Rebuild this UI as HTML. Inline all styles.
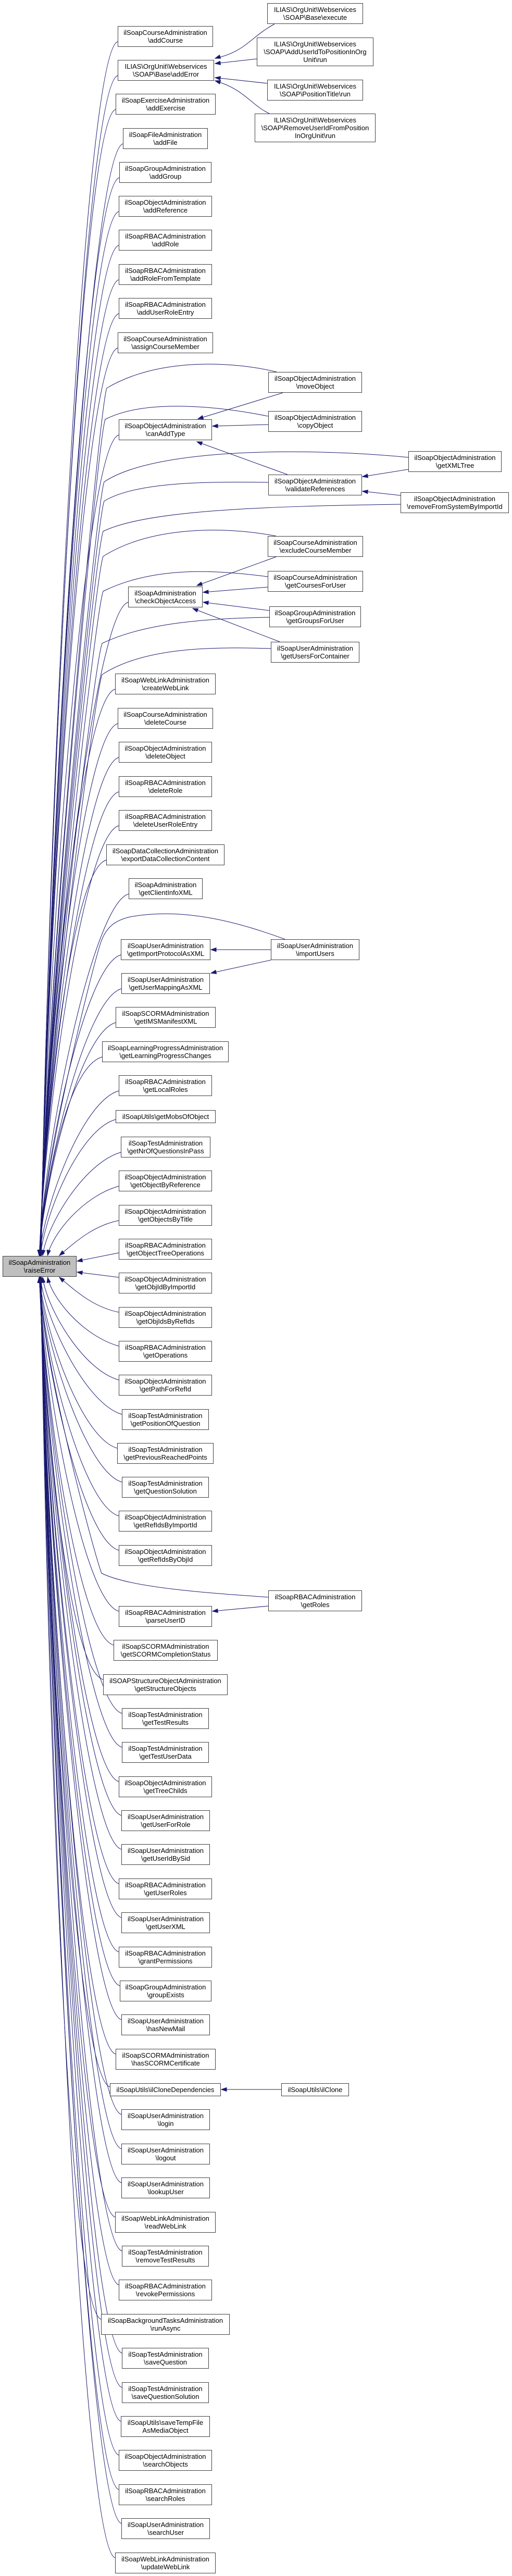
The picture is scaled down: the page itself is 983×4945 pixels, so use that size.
<!DOCTYPE html>
<html><head><meta charset="utf-8"><style>
html,body{margin:0;padding:0;background:#fff;}
#c{position:relative;width:983px;height:4945px;overflow:hidden;}
.n{position:absolute;box-sizing:border-box;border:1px solid #404040;background:#fff;display:flex;align-items:center;justify-content:center;text-align:center;font:13px/15px "Liberation Sans",Arial,sans-serif;color:#000;white-space:nowrap;z-index:2;}
svg{position:absolute;left:0;top:0;z-index:1;}
svg path{fill:none;stroke:#191970;stroke-width:1;}
svg polygon{fill:#191970;stroke:#191970;stroke-width:1;}
</style></head><body><div id="c">
<svg id="s" width="983" height="4945" viewBox="0 0 983 4945"></svg>
<div class="n" style="left:5px;top:2411px;width:142px;height:40px;background:#bfbfbf">ilSoapAdministration<br>\raiseError</div>

<div class="n u" style="left:226px;top:50px;width:183px;height:40px">ilSoapCourseAdministration<br>\addCourse</div>
<div class="n u" style="left:226px;top:115px;width:185px;height:40px">ILIAS\OrgUnit\Webservices<br>\SOAP\Base\addError</div>
<div class="n u" style="left:222px;top:180px;width:192px;height:40px">ilSoapExerciseAdministration<br>\addExercise</div>
<div class="n u" style="left:236px;top:246px;width:163px;height:40px">ilSoapFileAdministration<br>\addFile</div>
<div class="n u" style="left:229px;top:311px;width:177px;height:40px">ilSoapGroupAdministration<br>\addGroup</div>
<div class="n u" style="left:228px;top:376px;width:179px;height:40px">ilSoapObjectAdministration<br>\addReference</div>
<div class="n u" style="left:228px;top:441px;width:179px;height:40px">ilSoapRBACAdministration<br>\addRole</div>
<div class="n u" style="left:228px;top:507px;width:179px;height:40px">ilSoapRBACAdministration<br>\addRoleFromTemplate</div>
<div class="n u" style="left:228px;top:572px;width:179px;height:40px">ilSoapRBACAdministration<br>\addUserRoleEntry</div>
<div class="n u" style="left:226px;top:638px;width:183px;height:40px">ilSoapCourseAdministration<br>\assignCourseMember</div>
<div class="n u" style="left:228px;top:805px;width:179px;height:40px">ilSoapObjectAdministration<br>\canAddType</div>
<div class="n u" style="left:246px;top:1126px;width:143px;height:40px">ilSoapAdministration<br>\checkObjectAccess</div>
<div class="n u" style="left:221px;top:1293px;width:193px;height:40px">ilSoapWebLinkAdministration<br>\createWebLink</div>
<div class="n u" style="left:226px;top:1359px;width:183px;height:40px">ilSoapCourseAdministration<br>\deleteCourse</div>
<div class="n u" style="left:228px;top:1424px;width:179px;height:40px">ilSoapObjectAdministration<br>\deleteObject</div>
<div class="n u" style="left:228px;top:1490px;width:179px;height:40px">ilSoapRBACAdministration<br>\deleteRole</div>
<div class="n u" style="left:228px;top:1555px;width:179px;height:40px">ilSoapRBACAdministration<br>\deleteUserRoleEntry</div>
<div class="n u" style="left:204px;top:1621px;width:227px;height:40px">ilSoapDataCollectionAdministration<br>\exportDataCollectionContent</div>
<div class="n u" style="left:247px;top:1686px;width:142px;height:40px">ilSoapAdministration<br>\getClientInfoXML</div>
<div class="n u" style="left:232px;top:1803px;width:172px;height:40px">ilSoapUserAdministration<br>\getImportProtocolAsXML</div>
<div class="n u" style="left:233px;top:1868px;width:170px;height:40px">ilSoapUserAdministration<br>\getUserMappingAsXML</div>
<div class="n u" style="left:222px;top:1933px;width:192px;height:40px">ilSoapSCORMAdministration<br>\getIMSManifestXML</div>
<div class="n u" style="left:196px;top:1999px;width:243px;height:40px">ilSoapLearningProgressAdministration<br>\getLearningProgressChanges</div>
<div class="n u" style="left:228px;top:2064px;width:179px;height:40px">ilSoapRBACAdministration<br>\getLocalRoles</div>
<div class="n u" style="left:222px;top:2131px;width:192px;height:25px">ilSoapUtils\getMobsOfObject</div>
<div class="n u" style="left:232px;top:2182px;width:172px;height:40px">ilSoapTestAdministration<br>\getNrOfQuestionsInPass</div>
<div class="n u" style="left:228px;top:2247px;width:179px;height:40px">ilSoapObjectAdministration<br>\getObjectByReference</div>
<div class="n u" style="left:228px;top:2313px;width:179px;height:40px">ilSoapObjectAdministration<br>\getObjectsByTitle</div>
<div class="n r1" style="left:228px;top:2378px;width:179px;height:40px">ilSoapRBACAdministration<br>\getObjectTreeOperations</div>
<div class="n r2" style="left:228px;top:2443px;width:179px;height:40px">ilSoapObjectAdministration<br>\getObjIdByImportId</div>
<div class="n d" style="left:228px;top:2509px;width:179px;height:40px">ilSoapObjectAdministration<br>\getObjIdsByRefIds</div>
<div class="n d" style="left:228px;top:2574px;width:179px;height:40px">ilSoapRBACAdministration<br>\getOperations</div>
<div class="n d" style="left:228px;top:2639px;width:179px;height:40px">ilSoapObjectAdministration<br>\getPathForRefId</div>
<div class="n d" style="left:234px;top:2705px;width:167px;height:40px">ilSoapTestAdministration<br>\getPositionOfQuestion</div>
<div class="n d" style="left:225px;top:2770px;width:185px;height:40px">ilSoapTestAdministration<br>\getPreviousReachedPoints</div>
<div class="n d" style="left:234px;top:2835px;width:167px;height:40px">ilSoapTestAdministration<br>\getQuestionSolution</div>
<div class="n d" style="left:228px;top:2900px;width:179px;height:40px">ilSoapObjectAdministration<br>\getRefIdsByImportId</div>
<div class="n d" style="left:228px;top:2966px;width:179px;height:40px">ilSoapObjectAdministration<br>\getRefIdsByObjId</div>
<div class="n d" style="left:228px;top:3083px;width:179px;height:40px">ilSoapRBACAdministration<br>\parseUserID</div>
<div class="n d" style="left:218px;top:3148px;width:200px;height:40px">ilSoapSCORMAdministration<br>\getSCORMCompletionStatus</div>
<div class="n d" style="left:198px;top:3214px;width:239px;height:40px">ilSOAPStructureObjectAdministration<br>\getStructureObjects</div>
<div class="n d" style="left:234px;top:3279px;width:167px;height:40px">ilSoapTestAdministration<br>\getTestResults</div>
<div class="n d" style="left:234px;top:3344px;width:167px;height:40px">ilSoapTestAdministration<br>\getTestUserData</div>
<div class="n d" style="left:228px;top:3410px;width:179px;height:40px">ilSoapObjectAdministration<br>\getTreeChilds</div>
<div class="n d" style="left:233px;top:3475px;width:170px;height:40px">ilSoapUserAdministration<br>\getUserForRole</div>
<div class="n d" style="left:233px;top:3540px;width:170px;height:40px">ilSoapUserAdministration<br>\getUserIdBySid</div>
<div class="n d" style="left:228px;top:3606px;width:179px;height:40px">ilSoapRBACAdministration<br>\getUserRoles</div>
<div class="n d" style="left:233px;top:3671px;width:170px;height:40px">ilSoapUserAdministration<br>\getUserXML</div>
<div class="n d" style="left:228px;top:3737px;width:179px;height:40px">ilSoapRBACAdministration<br>\grantPermissions</div>
<div class="n d" style="left:230px;top:3802px;width:176px;height:40px">ilSoapGroupAdministration<br>\groupExists</div>
<div class="n d" style="left:233px;top:3867px;width:170px;height:40px">ilSoapUserAdministration<br>\hasNewMail</div>
<div class="n d" style="left:222px;top:3933px;width:192px;height:40px">ilSoapSCORMAdministration<br>\hasSCORMCertificate</div>
<div class="n d" style="left:211px;top:3999px;width:213px;height:25px">ilSoapUtils\ilCloneDependencies</div>
<div class="n d" style="left:233px;top:4049px;width:170px;height:40px">ilSoapUserAdministration<br>\login</div>
<div class="n d" style="left:233px;top:4115px;width:170px;height:40px">ilSoapUserAdministration<br>\logout</div>
<div class="n d" style="left:233px;top:4180px;width:170px;height:40px">ilSoapUserAdministration<br>\lookupUser</div>
<div class="n d" style="left:221px;top:4246px;width:193px;height:40px">ilSoapWebLinkAdministration<br>\readWebLink</div>
<div class="n d" style="left:234px;top:4311px;width:167px;height:40px">ilSoapTestAdministration<br>\removeTestResults</div>
<div class="n d" style="left:228px;top:4376px;width:179px;height:40px">ilSoapRBACAdministration<br>\revokePermissions</div>
<div class="n d" style="left:194px;top:4442px;width:247px;height:40px">ilSoapBackgroundTasksAdministration<br>\runAsync</div>
<div class="n d" style="left:234px;top:4507px;width:167px;height:40px">ilSoapTestAdministration<br>\saveQuestion</div>
<div class="n d" style="left:234px;top:4573px;width:167px;height:40px">ilSoapTestAdministration<br>\saveQuestionSolution</div>
<div class="n d" style="left:232px;top:4638px;width:171px;height:40px">ilSoapUtils\saveTempFile<br>AsMediaObject</div>
<div class="n d" style="left:228px;top:4703px;width:179px;height:40px">ilSoapObjectAdministration<br>\searchObjects</div>
<div class="n d" style="left:228px;top:4769px;width:179px;height:40px">ilSoapRBACAdministration<br>\searchRoles</div>
<div class="n d" style="left:233px;top:4834px;width:170px;height:40px">ilSoapUserAdministration<br>\searchUser</div>
<div class="n d" style="left:221px;top:4900px;width:193px;height:40px">ilSoapWebLinkAdministration<br>\updateWebLink</div>

<div class="n" style="left:513px;top:6px;width:184px;height:40px">ILIAS\OrgUnit\Webservices<br>\SOAP\Base\execute</div>
<div class="n" style="left:493px;top:72px;width:224px;height:55px">ILIAS\OrgUnit\Webservices<br>\SOAP\AddUserIdToPositionInOrg<br>Unit\run</div>
<div class="n" style="left:513px;top:153px;width:184px;height:40px">ILIAS\OrgUnit\Webservices<br>\SOAP\PositionTitle\run</div>
<div class="n" style="left:489px;top:218px;width:232px;height:55px">ILIAS\OrgUnit\Webservices<br>\SOAP\RemoveUserIdFromPosition<br>InOrgUnit\run</div>
<div class="n" style="left:515px;top:714px;width:180px;height:40px">ilSoapObjectAdministration<br>\moveObject</div>
<div class="n" style="left:515px;top:789px;width:180px;height:40px">ilSoapObjectAdministration<br>\copyObject</div>
<div class="n" style="left:784px;top:866px;width:179px;height:40px">ilSoapObjectAdministration<br>\getXMLTree</div>
<div class="n" style="left:515px;top:911px;width:180px;height:40px">ilSoapObjectAdministration<br>\validateReferences</div>
<div class="n" style="left:769px;top:945px;width:208px;height:40px">ilSoapObjectAdministration<br>\removeFromSystemByImportId</div>
<div class="n" style="left:514px;top:1029px;width:183px;height:40px">ilSoapCourseAdministration<br>\excludeCourseMember</div>
<div class="n" style="left:514px;top:1096px;width:183px;height:40px">ilSoapCourseAdministration<br>\getCoursesForUser</div>
<div class="n" style="left:517px;top:1164px;width:176px;height:40px">ilSoapGroupAdministration<br>\getGroupsForUser</div>
<div class="n" style="left:520px;top:1232px;width:170px;height:40px">ilSoapUserAdministration<br>\getUsersForContainer</div>
<div class="n" style="left:520px;top:1803px;width:170px;height:40px">ilSoapUserAdministration<br>\importUsers</div>
<div class="n" style="left:515px;top:3053px;width:180px;height:40px">ilSoapRBACAdministration<br>\getRoles</div>
<div class="n" style="left:540px;top:3999px;width:130px;height:25px">ilSoapUtils\ilClone</div>
</div>
<script>
(function(){
var d='',a='';
function arrow(tx,ty,fx,fy){var dx=tx-fx,dy=ty-fy,L=Math.hypot(dx,dy)||1;dx/=L;dy/=L;var bx=tx-dx*10,by=ty-dy*10;
a+='<polygon points="'+tx+','+ty+' '+(bx-dy*3.5)+','+(by+dx*3.5)+' '+(bx+dy*3.5)+','+(by-dx*3.5)+'"/>';}
function P(s){d+='<path d="'+s+'"/>';}
function L2(x1,y1,x2,y2){P('M'+x1+','+y1+' L'+x2+','+y2);arrow(x2,y2,x1,y1);}
var ups=[],dns=[];
document.querySelectorAll('.n.u').forEach(function(e){var h=e.offsetHeight;ups.push({sx:e.offsetLeft,sy:e.offsetTop+h-(h>30?10:7),pre:'',col:1});});
document.querySelectorAll('.n.d').forEach(function(e){dns.push({sx:e.offsetLeft,sy:e.offsetTop+(e.offsetHeight>30?10:7),pre:'',col:1});});
// right-node routes to raiseError (above)
[['M531,714 C440,692 300,688 205,745',205,745],
 ['M515,799 C420,780 280,765 202,805',202,805],
 ['M784,878 C600,860 300,858 200,925',200,925],
 ['M515,926 C400,924 260,925 200,962',200,962],
 ['M769,968 C500,972 280,980 198,1020',198,1020],
 ['M530,1029 C430,1010 290,1010 198,1068',198,1068],
 ['M514,1107 C420,1095 300,1085 198,1135',198,1135],
 ['M517,1185 C400,1187 280,1195 196,1235',196,1235],
 ['M520,1245 C420,1242 280,1240 196,1295',196,1295],
 ['M547,1803 C470,1775 360,1740 250,1760 C220,1767 205,1780 195,1805',195,1805]
].forEach(function(r){ups.push({sx:r[1],sy:r[2],pre:r[0],col:0});});
dns.push({sx:195,sy:3020,pre:'M515,3066 C400,3058 250,3048 195,3020',col:0});
ups.sort(function(p,q){return q.sy-p.sy;});
dns.sort(function(p,q){return p.sy-q.sy;});
ups.forEach(function(o,i){var xe=74+40*Math.exp(-i/1.2)+i*0.15,yE=2410,dy=yE-o.sy,p1x,p1y,p2x,p2y;
 if(dy<120){p1x=o.sx-50;p1y=o.sy+10;p2x=xe+30;p2y=yE-25;}
 else{ if(o.col){p1x=o.sx-70;p1y=o.sy+20;}else{p1x=o.sx-15;p1y=o.sy+40;} p2x=xe+8;p2y=yE-0.3*dy;}
 var s=(o.pre?o.pre+' ':'M'+o.sx+','+o.sy+' ')+'C'+p1x+','+p1y+' '+p2x+','+p2y+' '+xe+','+yE;
 P(s);arrow(xe,yE,p2x,p2y);});
dns.forEach(function(o,i){var xe=74+40*Math.exp(-i/1.2)+i*0.15,yE=2452,dy=o.sy-yE,p1x,p1y,p2x,p2y;
 if(dy<120){p1x=o.sx-50;p1y=o.sy-10;p2x=xe+30;p2y=yE+25;}
 else{ if(o.col){p1x=o.sx-70;p1y=o.sy-20;}else{p1x=o.sx-15;p1y=o.sy-40;} p2x=xe+8;p2y=yE+0.3*dy;}
 var s=(o.pre?o.pre+' ':'M'+o.sx+','+o.sy+' ')+'C'+p1x+','+p1y+' '+p2x+','+p2y+' '+xe+','+yE;
 P(s);arrow(xe,yE,p2x,p2y);});
L2(228,2405,148,2421);
L2(228,2452,148,2442);
// other edges
P('M527,46 C480,72 470,100 413,112');arrow(413,112,440,103);
L2(493,113,413,122);
L2(513,160,413,149);
P('M517,218 C480,200 470,172 413,155');arrow(413,155,440,163);
L2(543,754,380,804);
L2(515,815,408,818);
L2(552,911,378,848);
L2(784,901,696,915);
L2(769,951,696,943);
L2(530,1069,378,1124);
L2(514,1127,390,1137);
L2(517,1172,390,1156);
L2(537,1232,370,1168);
L2(520,1823,405,1823);
L2(520,1843,405,1868);
L2(515,3083,408,3093);
L2(540,4011,425,4011);
document.getElementById('s').innerHTML=d+a;
})();
</script>
</body></html>
